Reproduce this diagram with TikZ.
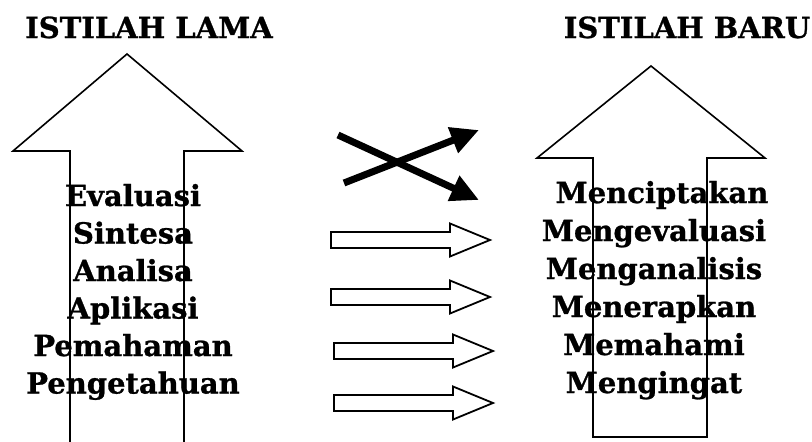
\documentclass[tikz,border=0pt]{standalone}
\usepackage{fontspec}
\setmainfont{DejaVu Serif}[BoldFeatures={FakeBold=0.9}]
\usetikzlibrary{arrows.meta}
\tikzset{
  istilah/.style={anchor=base,inner sep=0pt,font=\bfseries\fontsize{29}{29}\selectfont},
  judul/.style={istilah,font=\bfseries\fontsize{29}{29}\selectfont},
  panah/.style={line width=1.6pt,line join=miter},
  silang/.style={line width=7pt,-{Triangle[length=28pt,width=26pt]}},
}
\begin{document}
\begin{tikzpicture}[x=1pt,y=-1pt]
    \useasboundingbox(0,0)rectangle(812,442);
    % judul
    \node[judul](lama)at(149,38){ISTILAH LAMA};
    \node[judul](baru)at(687,38){ISTILAH BARU};
    % panah besar kiri (terpotong di bawah)
    \draw[panah](70,442)--(70,151)--(13,151)--(127,54)--(242,151)--(184,151)--(184,442);
    % panah besar kanan
    \draw[panah](593,437)--(593,158)--(537,158)--(651,66)--(765,158)--(707,158)--(707,437)--cycle;
    % istilah lama
    \foreach \t[count=\i] in {Evaluasi,Sintesa,Analisa,Aplikasi,Pemahaman,Pengetahuan}
      \node[istilah](l\i)at(133,{206+37.5*(\i-1)}){\t};
    % istilah baru
    \node[istilah](b1)at(662,203){Menciptakan};
    \foreach \t[count=\i from 2] in {Mengevaluasi,Menganalisis,Menerapkan,Memahami,Mengingat}
      \node[istilah](b\i)at(654,{203+38*(\i-1)}){\t};
    % panah silang
    \draw[silang](338,135)--(479,200);
    \draw[silang](344,183)--(479,130);
    % panah blok
    \foreach \x/\y in {331/240,331/297,334/351,334/403}
      \draw[panah,line width=1.8pt](\x,\y-8)--(\x+119,\y-8)--(\x+119,\y-16.5)--(\x+159,\y)
        --(\x+119,\y+16.5)--(\x+119,\y+8)--(\x,\y+8)--cycle;
\end{tikzpicture}
\end{document}
